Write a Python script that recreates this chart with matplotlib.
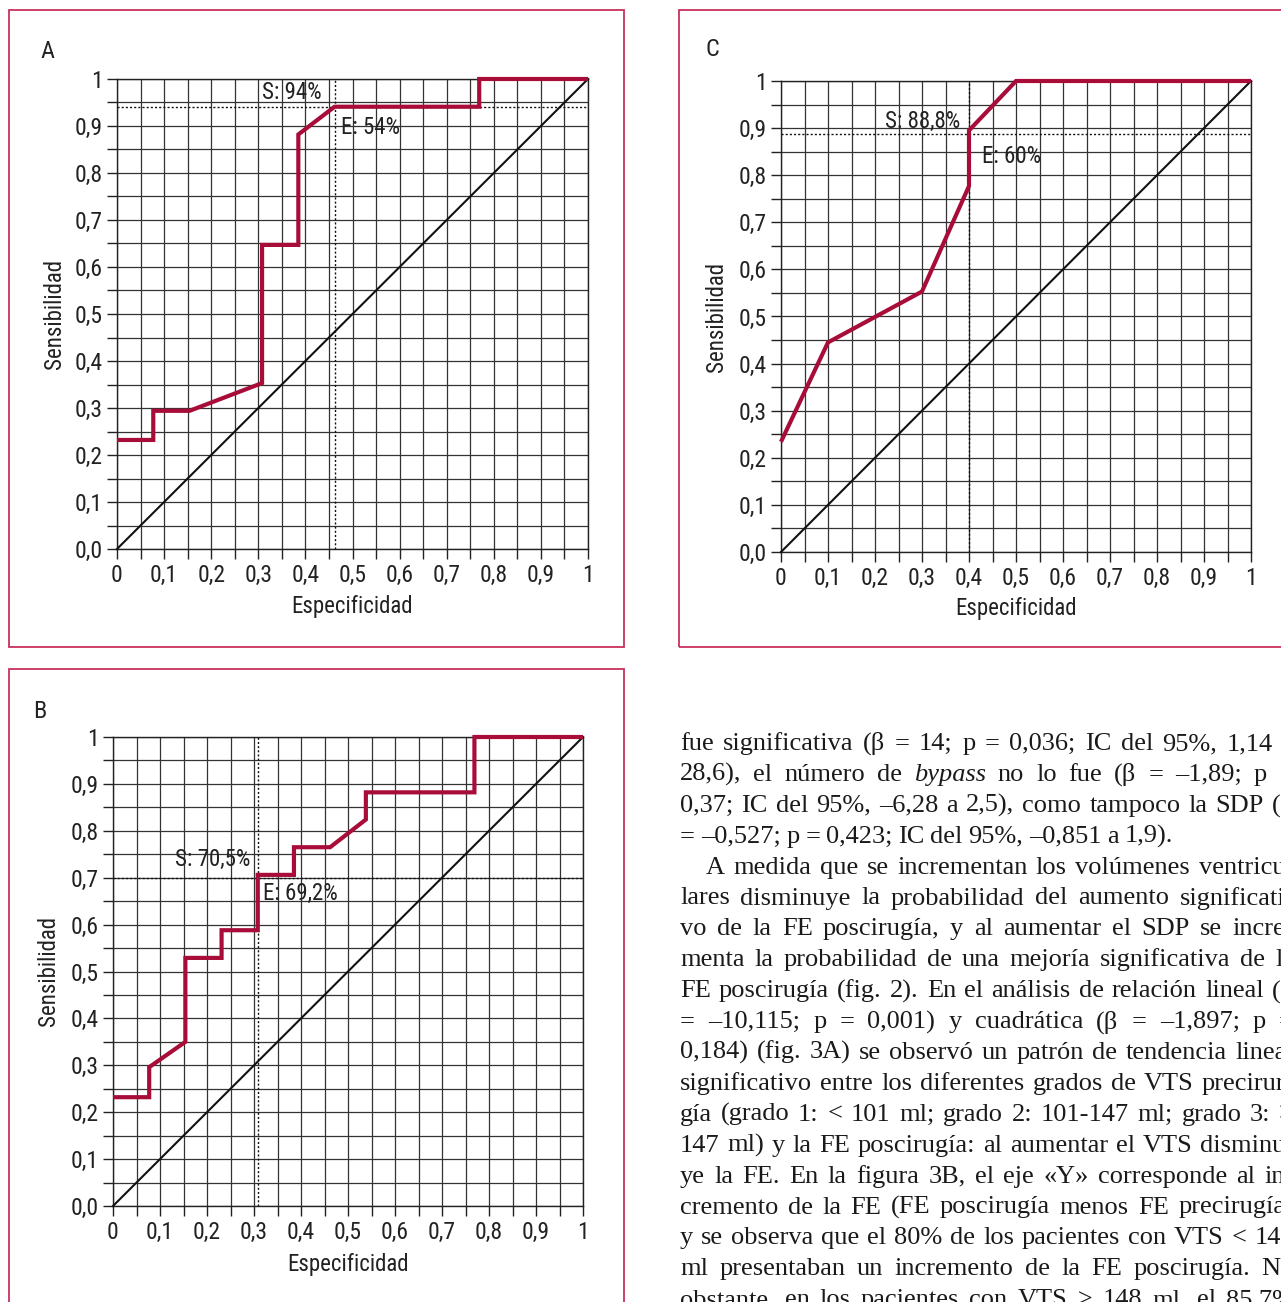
import matplotlib
matplotlib.use("Agg")
import matplotlib.pyplot as plt
import numpy as np
from matplotlib import font_manager
from matplotlib.patches import Rectangle

# ROC curve A (x = 1 - especificidad, y = sensibilidad)
rocA_x = [0, 0.077, 0.077, 0.154, 0.308, 0.308, 0.385, 0.385, 0.462, 0.769, 0.769, 1.0]
rocA_y = [0.232, 0.232, 0.294, 0.294, 0.353, 0.647, 0.647, 0.882, 0.941, 0.941, 1.0, 1.0]
cutA = (0.462, 0.941)
labelsA = ("S: 94%", "E: 54%")

# ROC curve B
rocB_x = [0, 0.077, 0.077, 0.154, 0.154, 0.231, 0.231, 0.308, 0.308, 0.385, 0.385,
          0.462, 0.538, 0.538, 0.769, 0.769, 1.0]
rocB_y = [0.232, 0.232, 0.296, 0.350, 0.529, 0.529, 0.588, 0.588, 0.706, 0.706, 0.765,
          0.765, 0.824, 0.882, 0.882, 1.0, 1.0]
cutB = (0.308, 0.70)
labelsB = ("S: 70,5%", "E: 69,2%")

# ROC curve C
rocC_x = [0, 0.1, 0.3, 0.4, 0.4, 0.5, 1.0]
rocC_y = [0.234, 0.445, 0.553, 0.777, 0.895, 1.0, 1.0]
cutC = (0.4, 0.888)
labelsC = ("S: 88,8%", "E: 60%")

xticklabels = ["0", "0,1", "0,2", "0,3", "0,4", "0,5", "0,6", "0,7", "0,8", "0,9", "1"]
yticklabels = ["0,0", "0,1", "0,2", "0,3", "0,4", "0,5", "0,6", "0,7", "0,8", "0,9", "1"]

body_lines = [
    "fue significativa (β = 14; p = 0,036; IC del 95%, 1,14 a",
    "28,6), el número de *bypass* no lo fue (β = –1,89; p =",
    "0,37; IC del 95%, –6,28 a 2,5), como tampoco la SDP (β",
    "= –0,527; p = 0,423; IC del 95%, –0,851 a 1,9).",
    "A medida que se incrementan los volúmenes ventricu-",
    "lares disminuye la probabilidad del aumento significati-",
    "vo de la FE poscirugía, y al aumentar el SDP se incre-",
    "menta la probabilidad de una mejoría significativa de la",
    "FE poscirugía (fig. 2). En el análisis de relación lineal (β",
    "= –10,115; p = 0,001) y cuadrática (β = –1,897; p =",
    "0,184) (fig. 3A) se observó un patrón de tendencia lineal",
    "significativo entre los diferentes grados de VTS precirur-",
    "gía (grado 1: < 101 ml; grado 2: 101-147 ml; grado 3: >",
    "147 ml) y la FE poscirugía: al aumentar el VTS disminu-",
    "ye la FE. En la figura 3B, el eje «Y» corresponde al in-",
    "cremento de la FE (FE poscirugía menos FE precirugía)",
    "y se observa que el 80% de los pacientes con VTS < 148",
    "ml presentaban un incremento de la FE poscirugía. No",
    "obstante, en los pacientes con VTS ≥ 148 ml, el 85,7%",
]
justify = [True, True, True, False] + [True] * 15
indent = [False] * 4 + [True] + [False] * 14

W, H = 1281, 1302
RED = "#a80d3a"
FRAME = "#c8325a"
INK = "#222222"

# pick a condensed sans face if one is installed
fonts = font_manager.fontManager.ttflist
SANS = {"family": "Roboto"}
FS_SANS = 14.5
for f in fonts:
    if f.name in ("Liberation Sans Narrow", "Roboto Condensed", "Open Sans Condensed"):
        SANS = {"family": f.name}
        FS_SANS = 16.5
        break
else:
    for f in fonts:
        if f.name == "DejaVu Sans" and f.stretch == "condensed" and f.style == "normal":
            SANS = {"family": "DejaVu Sans", "stretch": "condensed"}
            FS_SANS = 15.5
            break
SERIF = "Liberation Serif"
plt.rcParams["font.family"] = SANS["family"]

fig = plt.figure(figsize=(W / 100, H / 100), dpi=100)


def fx(px):
    return px / W


def fy(py):
    return 1 - py / H


def frame(x0, y0, x1, y1):
    fig.patches.append(Rectangle((fx(x0), fy(y1)), fx(x1) - fx(x0), fy(y0) - fy(y1),
                                 transform=fig.transFigure, fill=False,
                                 edgecolor=FRAME, lw=1.3))


def panel(box, letter, letter_pos, xs, ys, cut, labels, lab_pos, ylab_x, xlab_y):
    x0, y0, x1, y1 = box
    ax = fig.add_axes([fx(x0), fy(y1), fx(x1) - fx(x0), fy(y0) - fy(y1)])
    ax.set_xlim(0, 1)
    ax.set_ylim(0, 1)
    ax.set_xticks(np.linspace(0, 1, 11))
    ax.set_yticks(np.linspace(0, 1, 11))
    ax.set_xticks(np.arange(0.05, 1, 0.1), minor=True)
    ax.set_yticks(np.arange(0.05, 1, 0.1), minor=True)
    ax.set_xticklabels(xticklabels, fontsize=FS_SANS + 0.5, **SANS)
    ax.set_yticklabels(yticklabels, fontsize=FS_SANS + 0.5, **SANS)
    ax.tick_params(which="both", direction="out", length=7, width=1, color=INK)
    ax.tick_params(axis="x", pad=4, colors=INK)
    ax.tick_params(axis="y", pad=3, colors=INK)
    ax.grid(True, which="both", color="#333333", lw=0.9)
    ax.set_axisbelow(True)
    for s in ax.spines.values():
        s.set_color(INK)
        s.set_linewidth(1)

    ax.plot([0, 1], [0, 1], color="#111111", lw=1.5, clip_on=False, zorder=3)
    ax.axvline(cut[0], color="#111111", lw=1, ls=(0, (1.5, 1.5)), zorder=3)
    ax.axhline(cut[1], color="#111111", lw=1, ls=(0, (1.5, 1.5)), zorder=3)
    ax.plot(xs, ys, color=RED, lw=3, clip_on=False, zorder=4,
            solid_joinstyle="miter", solid_capstyle="butt")

    (sx, sy), (ex, ey) = lab_pos
    ax.text(sx, sy, labels[0], ha="right", va="center", fontsize=FS_SANS, color=INK,
            zorder=5, **SANS)
    ax.text(ex, ey, labels[1], ha="left", va="center", fontsize=FS_SANS, color=INK,
            zorder=5, **SANS)

    fig.text(fx(letter_pos[0]), fy(letter_pos[1]), letter, ha="center", va="center",
             fontsize=FS_SANS + 1, color=INK, **SANS)
    fig.text(fx(ylab_x), fy((y0 + y1) / 2), "Sensibilidad", rotation=90, ha="center",
             va="center", fontsize=FS_SANS, color=INK, **SANS)
    fig.text(fx((x0 + x1) / 2), fy(xlab_y), "Especificidad", ha="center", va="center",
             fontsize=FS_SANS, color=INK, **SANS)
    return ax


frame(9, 10, 624, 647)
frame(679, 10, 1300, 647)
frame(9, 669, 624, 1320)

panel((117, 79, 588, 549), "A", (47, 52), rocA_x, rocA_y, cutA, labelsA,
      ((0.435, 0.972), (0.475, 0.896)), 55, 606)
panel((781, 81, 1251, 552), "C", (712, 50), rocC_x, rocC_y, cutC, labelsC,
      ((0.382, 0.915), (0.428, 0.839)), 717, 609)
panel((113, 737, 583, 1206), "B", (40, 712), rocB_x, rocB_y, cutB, labelsB,
      ((0.292, 0.739), (0.32, 0.667)), 49, 1265)

# body text, justified word by word (the column runs past the right edge)
renderer = fig.canvas.get_renderer()
TX0, TX1 = 680, 1294
BASE0, LEAD = 750, 30.9
FS = 19
for i, line in enumerate(body_lines):
    yb = fy(BASE0 + LEAD * i)
    start = TX0 + (26 if indent[i] else 0)
    words = line.split(" ")
    objs = []
    for w in words:
        style = "normal"
        if w.startswith("*") and w.endswith("*"):
            w = w.strip("*")
            style = "italic"
        objs.append(fig.text(0, yb, w, family=SERIF, fontsize=FS, style=style,
                             va="baseline", ha="left", color="#1a1a1a"))
    widths = [o.get_window_extent(renderer).width for o in objs]
    gap = FS * 100 / 72 * 0.22
    if justify[i] and len(words) > 1:
        gap = (TX1 - start - sum(widths)) / (len(words) - 1)
    x = start
    for o, wdt in zip(objs, widths):
        o.set_x(fx(x))
        x += wdt + gap

fig.savefig("out.png", dpi=100)
